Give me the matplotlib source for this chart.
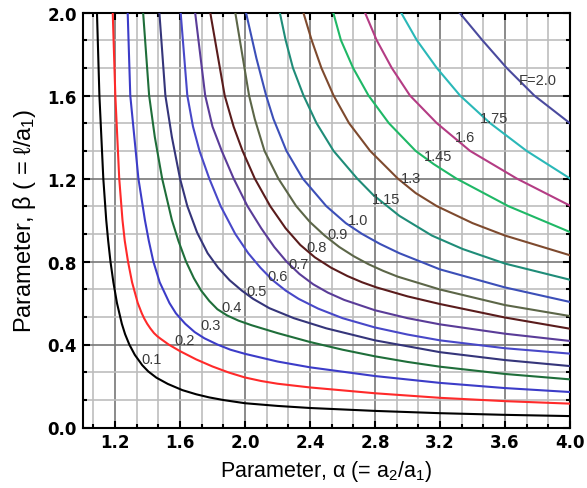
import matplotlib
matplotlib.use("Agg")
import matplotlib.pyplot as plt
from matplotlib.ticker import AutoMinorLocator

plt.rcParams["mathtext.fontset"] = "custom"
plt.rcParams["mathtext.rm"] = "Liberation Sans"
plt.rcParams["mathtext.it"] = "Liberation Sans:italic"
plt.rcParams["mathtext.bf"] = "Liberation Sans:bold"

# Iso-F curves: beta as a function of alpha for each value of F
alpha_010 = [1.089, 1.104, 1.128, 1.146, 1.158, 1.172, 1.190, 1.212, 1.242, 1.262, 1.288, 1.322, 1.368,
             1.405, 1.455, 1.525, 1.615, 1.70, 1.78, 1.87, 2.0, 2.2, 2.4, 2.8, 3.2, 3.6, 4.0]
beta_010 = [2.0, 1.6, 1.2, 1.0, 0.9, 0.8, 0.7, 0.6, 0.5, 0.45, 0.4, 0.35, 0.30,
            0.27, 0.24, 0.21, 0.18, 0.16, 0.145, 0.132, 0.117, 0.104, 0.094, 0.080, 0.069, 0.061, 0.055]

alpha_020 = [1.186, 1.202, 1.226, 1.246, 1.260, 1.280, 1.305, 1.340, 1.365, 1.38, 1.398, 1.418, 1.44,
             1.46, 1.48, 1.53, 1.60, 1.70, 1.80, 1.90, 2.0, 2.1, 2.2, 2.4, 2.8, 3.2, 3.6, 4.0]
beta_020 = [2.0, 1.6, 1.2, 1.0, 0.9, 0.8, 0.7, 0.6, 0.55, 0.525, 0.5, 0.477, 0.455,
            0.44, 0.428, 0.400, 0.368, 0.328, 0.294, 0.265, 0.241, 0.224, 0.211, 0.193, 0.165,
            0.143, 0.127, 0.115]

alpha_030 = [1.278, 1.294, 1.344, 1.384, 1.408, 1.436, 1.475, 1.535, 1.575, 1.632, 1.69, 1.75, 1.83,
             1.91, 2.0, 2.2, 2.4, 2.8, 3.2, 3.6, 4.0]
beta_030 = [2.0, 1.6, 1.2, 1.0, 0.9, 0.8, 0.7, 0.6, 0.55, 0.5, 0.46, 0.43, 0.40,
            0.375, 0.355, 0.318, 0.29, 0.248, 0.215, 0.19, 0.171]

alpha_040 = [1.373, 1.41, 1.445, 1.49, 1.55, 1.59, 1.637, 1.685, 1.73, 1.78, 1.83, 1.89, 1.96,
             2.04, 2.2, 2.4, 2.6, 2.8, 3.0, 3.2, 3.6, 4.0]
beta_040 = [2.0, 1.6, 1.4, 1.2, 1.0, 0.9, 0.8, 0.72, 0.66, 0.61, 0.57, 0.54, 0.515,
            0.493, 0.455, 0.412, 0.375, 0.343, 0.316, 0.293, 0.258, 0.232]

alpha_050 = [1.473, 1.51, 1.55, 1.60, 1.645, 1.705, 1.77, 1.835, 1.905, 1.98, 2.05, 2.15, 2.3,
             2.5, 2.8, 3.2, 3.6, 4.0]
beta_050 = [2.0, 1.6, 1.4, 1.2, 1.067, 0.94, 0.84, 0.77, 0.71, 0.66, 0.62, 0.575, 0.527,
            0.478, 0.42, 0.363, 0.325, 0.296]

alpha_060 = [1.604, 1.645, 1.68, 1.72, 1.78, 1.85, 1.94, 2.02, 2.095, 2.17, 2.25, 2.33, 2.45,
             2.6, 2.8, 3.0, 3.2, 3.6, 4.0]
beta_060 = [2.0, 1.6, 1.45, 1.333, 1.2, 1.067, 0.933, 0.84, 0.77, 0.71, 0.66, 0.62, 0.573,
            0.527, 0.482, 0.448, 0.42, 0.382, 0.356]

alpha_070 = [1.693, 1.755, 1.80, 1.857, 1.93, 2.015, 2.1, 2.18, 2.255, 2.335, 2.42, 2.51, 2.61,
             2.8, 3.0, 3.2, 3.6, 4.0]
beta_070 = [2.0, 1.6, 1.45, 1.333, 1.2, 1.067, 0.96, 0.87, 0.8, 0.74, 0.69, 0.65, 0.615,
            0.565, 0.527, 0.497, 0.452, 0.417]

alpha_080 = [1.786, 1.875, 1.93, 1.985, 2.06, 2.155, 2.25, 2.34, 2.43, 2.53, 2.63, 2.72, 2.81,
             3.0, 3.2, 3.6, 4.0]
beta_080 = [2.0, 1.6, 1.45, 1.333, 1.2, 1.067, 0.96, 0.88, 0.82, 0.77, 0.73, 0.70, 0.675,
            0.632, 0.595, 0.53, 0.476]

alpha_090 = [1.94, 2.025, 2.06, 2.12, 2.205, 2.315, 2.4, 2.49, 2.58, 2.67, 2.76, 2.85, 2.94,
             3.2, 3.6, 4.0]
beta_090 = [2.0, 1.6, 1.487, 1.333, 1.2, 1.067, 0.99, 0.925, 0.87, 0.825, 0.787, 0.755, 0.727,
            0.665, 0.59, 0.537]

alpha_100 = [2.006, 2.07, 2.13, 2.175, 2.255, 2.355, 2.5, 2.62, 2.72, 2.83, 2.95, 3.2, 3.6, 4.0]
beta_100 = [2.0, 1.78, 1.6, 1.487, 1.333, 1.2, 1.067, 0.985, 0.933, 0.885, 0.84, 0.762, 0.675, 0.605]

alpha_115 = [2.214, 2.25, 2.295, 2.36, 2.44, 2.545, 2.69, 2.79, 2.95, 3.15, 3.34, 3.6, 4.0]
beta_115 = [2.0, 1.867, 1.733, 1.6, 1.467, 1.333, 1.2, 1.12, 1.02, 0.925, 0.86, 0.79, 0.712]

alpha_130 = [2.359, 2.41, 2.47, 2.545, 2.64, 2.77, 2.94, 3.05, 3.18, 3.4, 3.6, 4.0]
beta_130 = [2.0, 1.867, 1.733, 1.6, 1.467, 1.333, 1.2, 1.13, 1.067, 0.985, 0.925, 0.83]

alpha_145 = [2.543, 2.59, 2.665, 2.76, 2.885, 3.05, 3.16, 3.3, 3.62, 4.0]
beta_145 = [2.0, 1.867, 1.733, 1.6, 1.467, 1.333, 1.27, 1.2, 1.067, 0.942]

alpha_160 = [2.738, 2.81, 2.903, 3.015, 3.18, 3.385, 3.672, 4.0]
beta_160 = [2.0, 1.867, 1.733, 1.6, 1.467, 1.333, 1.2, 1.069]

alpha_175 = [2.96, 3.057, 3.18, 3.323, 3.508, 3.733, 4.0]
beta_175 = [2.0, 1.867, 1.733, 1.6, 1.467, 1.333, 1.2]

alpha_200 = [3.319, 3.46, 3.61, 3.78, 4.0]
beta_200 = [2.0, 1.867, 1.733, 1.6, 1.466]

curve_alpha = [alpha_010, alpha_020, alpha_030, alpha_040, alpha_050, alpha_060, alpha_070, alpha_080,
               alpha_090, alpha_100, alpha_115, alpha_130, alpha_145, alpha_160, alpha_175, alpha_200]
curve_beta = [beta_010, beta_020, beta_030, beta_040, beta_050, beta_060, beta_070, beta_080,
              beta_090, beta_100, beta_115, beta_130, beta_145, beta_160, beta_175, beta_200]
curve_colors = ["#000000", "#ff2a2a", "#3c3cc8", "#1f6e3a", "#35357a", "#4848c8", "#5a3c98", "#5a1c1c",
                "#5c6648", "#3c4fb8", "#1f8c78", "#7e4a2e", "#1fb866", "#b43c84", "#2ab8b8", "#4a4a9e"]

# In-line contour labels
label_text = ["0.1", "0.2", "0.3", "0.4", "0.5", "0.6", "0.7", "0.8",
              "0.9", "1.0", "1.15", "1.3", "1.45", "1.6", "1.75", "F=2.0"]
label_alpha = [1.422, 1.631, 1.79, 1.92, 2.072, 2.2, 2.332, 2.443, 2.567, 2.697, 2.868, 3.021, 3.19, 3.354, 3.532, 3.803]
label_beta = [0.328, 0.424, 0.494, 0.583, 0.658, 0.728, 0.789, 0.870, 0.934, 1.001, 1.099, 1.204, 1.307, 1.402, 1.493, 1.677]

x_ticks = [1.2, 1.6, 2.0, 2.4, 2.8, 3.2, 3.6, 4.0]
y_ticks = [0.0, 0.4, 0.8, 1.2, 1.6, 2.0]

fig = plt.figure(figsize=(5.87, 4.89), dpi=100)
ax = fig.add_axes([82.5 / 587, 60.5 / 489, 487.5 / 587, 415 / 489])

for a, b, c in zip(curve_alpha, curve_beta, curve_colors):
    ax.plot(a, b, color=c, lw=1.5, solid_joinstyle="round", zorder=3)

for t, x, y in zip(label_text, label_alpha, label_beta):
    ax.text(x, y, t, ha="center", va="center", fontsize=10.5, color="#3a3a3a",
            family="Liberation Sans", zorder=4)

ax.set_xlim(1.0, 4.0)
ax.set_ylim(0.0, 2.0)
ax.set_xticks(x_ticks)
ax.set_yticks(y_ticks)
ax.xaxis.set_minor_locator(AutoMinorLocator(3))
ax.yaxis.set_minor_locator(AutoMinorLocator(3))
ax.set_xticklabels([f"{v:.1f}" for v in x_ticks])
ax.set_yticklabels([f"{v:.1f}" for v in y_ticks])

ax.grid(which="major", color="#777777", lw=1.2, zorder=1)
ax.grid(which="minor", color="#bdbdbd", lw=1.2, zorder=1)
ax.set_axisbelow(True)

ax.tick_params(which="both", direction="in", top=True, right=True, width=1.5, color="black")
ax.tick_params(which="major", length=5, pad=4)
ax.tick_params(which="minor", length=3)
for lab in ax.get_xticklabels() + ax.get_yticklabels():
    lab.set_fontweight("bold")
    lab.set_fontsize(12)
    lab.set_family("DejaVu Sans")

for s in ax.spines.values():
    s.set_linewidth(1.5)
    s.set_color("black")

ax.set_xlabel("Parameter, \u03b1 (= a$_2$/a$_1$)", fontsize=15.5, family="Liberation Sans", labelpad=5)
ax.set_ylabel("Parameter, \u03b2 ( = \u2113/a$_1$)", fontsize=17, family="Liberation Sans", labelpad=7)

fig.savefig("out.png", dpi=100)
